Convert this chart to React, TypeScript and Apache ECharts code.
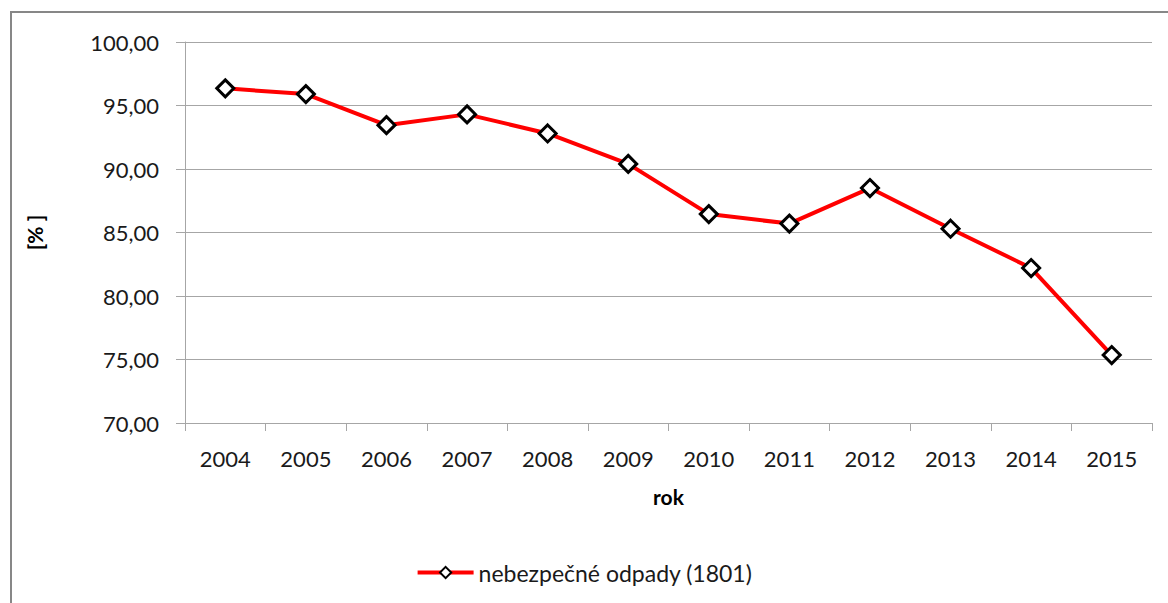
import React, { useEffect, useRef } from "react";
import * as echarts from "echarts";

const years = ["2004", "2005", "2006", "2007", "2008", "2009", "2010", "2011", "2012", "2013", "2014", "2015"];
const values = [96.35, 95.9, 93.45, 94.3, 92.8, 90.4, 86.45, 85.7, 88.5, 85.3, 82.2, 75.35];
const seriesName = "nebezpečné odpady (1801)";

const FONT = "Lato, 'Open Sans', sans-serif";

export default function App() {
  const ref = useRef<HTMLDivElement>(null);
  useEffect(() => {
    document.body.style.margin = "0";
    const chart = echarts.init(ref.current!, null, { renderer: "svg" });
    chart.setOption({
      animation: false,
      backgroundColor: "#ffffff",
      textStyle: { fontFamily: FONT },
      graphic: [
        {
          type: "rect",
          shape: { x: 11, y: 12, width: 1200, height: 650 },
          style: { fill: "none", stroke: "#878787", lineWidth: 2 },
          silent: true,
          z: -1,
        },
      ],
      grid: { left: 185, top: 42, right: 16, bottom: 180, containLabel: false },
      xAxis: {
        type: "category",
        data: years,
        boundaryGap: true,
        name: "rok",
        nameLocation: "middle",
        nameGap: 63,
        nameTextStyle: { fontFamily: FONT, fontSize: 21, fontWeight: "bold", color: "#000" },
        axisLine: { lineStyle: { color: "#a6a6a6", width: 1 } },
        axisTick: { show: true, length: 8, lineStyle: { color: "#a6a6a6" }, alignWithLabel: false },
        axisLabel: { fontFamily: FONT, fontSize: 22, color: "#1a1a1a", margin: 24 },
      },
      yAxis: {
        type: "value",
        min: 70,
        max: 100,
        interval: 5,
        name: "[% ]",
        nameLocation: "middle",
        nameGap: 140,
        nameRotate: 90,
        nameTextStyle: { fontFamily: FONT, fontSize: 21, fontWeight: "bold", color: "#000" },
        axisLine: { show: true, lineStyle: { color: "#a6a6a6", width: 1 } },
        axisTick: { show: true, length: 9, lineStyle: { color: "#a6a6a6" } },
        axisLabel: {
          fontFamily: FONT,
          fontSize: 22,
          color: "#1a1a1a",
          margin: 26,
          formatter: (v: number) => v.toFixed(2).replace(".", ","),
        },
        splitLine: { lineStyle: { color: "#a6a6a6", width: 1 } },
      },
      legend: {
        bottom: 14,
        left: "center",
        itemWidth: 56,
        itemHeight: 14,
        itemGap: 10,
        textStyle: { fontFamily: FONT, fontSize: 23, color: "#1a1a1a" },
        lineStyle: { width: 4 },
        data: [seriesName],
      },
      series: [
        {
          name: seriesName,
          type: "line",
          data: values,
          symbol: "diamond",
          symbolSize: 17,
          lineStyle: { color: "#ff0000", width: 4 },
          itemStyle: { color: "#ffffff", borderColor: "#000000", borderWidth: 3 },
        },
      ],
    });
    return () => chart.dispose();
  }, []);
  return <div ref={ref} style={{ width: 1168, height: 603 }} />;
}
